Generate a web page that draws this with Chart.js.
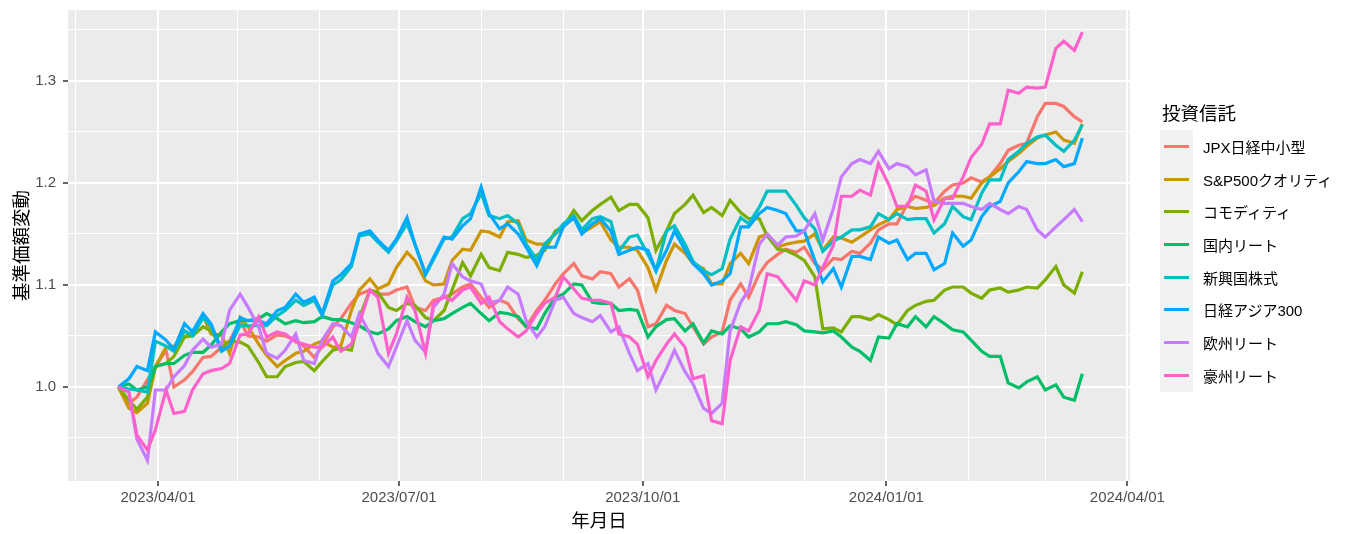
<!DOCTYPE html>
<html>
<head>
<meta charset="utf-8">
<script src="https://cdn.jsdelivr.net/npm/chart.js@4"></script>
<style>
  body { margin: 0; background: #ffffff; }
  #wrap { position: relative; width: 1352px; height: 534px; font-family: 'Liberation Sans', 'Noto Sans CJK JP', sans-serif; }
  #legend { position: absolute; left: 1160px; top: 98px; }
  #legend .title { font-size: 18.5px; color: #000; margin-left: 2px; height: 28px; padding-top: 4px; line-height: 24px; }
  #legend .row { display: flex; align-items: center; height: 32.7px; }
  #legend .key { width: 33px; height: 32.7px; background: #F2F2F2; position: relative; }
  #legend .key span { position: absolute; left: 4px; right: 4px; top: 15px; height: 3px; }
  #legend .label { font-size: 15px; color: #000; margin-left: 10px; }
</style>
</head>
<body>
<div id="wrap">
  <canvas id="chart" width="1352" height="534"></canvas>
  <div id="legend"></div>
</div>
<script>
// Dates (Fridays and Tuesdays)
const dates = [
  '2023-03-17', '2023-03-21', '2023-03-24', '2023-03-28', '2023-03-31', '2023-04-04', '2023-04-07', '2023-04-11', '2023-04-14', '2023-04-18', '2023-04-21', '2023-04-25', '2023-04-28',
  '2023-05-02', '2023-05-05', '2023-05-09', '2023-05-12', '2023-05-16', '2023-05-19', '2023-05-23', '2023-05-26', '2023-05-30', '2023-06-02', '2023-06-06', '2023-06-09', '2023-06-13',
  '2023-06-16', '2023-06-20', '2023-06-23', '2023-06-27', '2023-06-30', '2023-07-04', '2023-07-07', '2023-07-11', '2023-07-14', '2023-07-18', '2023-07-21', '2023-07-25', '2023-07-28',
  '2023-08-01', '2023-08-04', '2023-08-08', '2023-08-11', '2023-08-15', '2023-08-18', '2023-08-22', '2023-08-25', '2023-08-29', '2023-09-01', '2023-09-05', '2023-09-08', '2023-09-12',
  '2023-09-15', '2023-09-19', '2023-09-22', '2023-09-26', '2023-09-29', '2023-10-03', '2023-10-06', '2023-10-10', '2023-10-13', '2023-10-17', '2023-10-20', '2023-10-24', '2023-10-27',
  '2023-10-31', '2023-11-03', '2023-11-07', '2023-11-10', '2023-11-14', '2023-11-17', '2023-11-21', '2023-11-24', '2023-11-28', '2023-12-01', '2023-12-05', '2023-12-08', '2023-12-12',
  '2023-12-15', '2023-12-19', '2023-12-22', '2023-12-26', '2023-12-29', '2024-01-02', '2024-01-05', '2024-01-09', '2024-01-12', '2024-01-16', '2024-01-19', '2024-01-23', '2024-01-26',
  '2024-01-30', '2024-02-02', '2024-02-06', '2024-02-09', '2024-02-13', '2024-02-16', '2024-02-20', '2024-02-23', '2024-02-27', '2024-03-01', '2024-03-05', '2024-03-08', '2024-03-12',
  '2024-03-15'];

// Series values (基準価額変動, start = 1.0)
const jpx = [
  1.000, 0.984, 0.990, 1.007, 1.020, 1.036, 1.000, 1.007, 1.015, 1.029, 1.030, 1.039, 1.045, 1.065, 1.050, 1.049, 1.045, 1.051, 1.050, 1.046, 1.040, 1.029, 1.040, 1.059, 1.067, 1.082,
  1.091, 1.095, 1.091, 1.091, 1.095, 1.098, 1.078, 1.075, 1.085, 1.088, 1.091, 1.098, 1.101, 1.088, 1.078, 1.085, 1.082, 1.067, 1.059, 1.075, 1.085, 1.101, 1.111, 1.121, 1.109, 1.106,
  1.113, 1.111, 1.098, 1.106, 1.095, 1.059, 1.062, 1.080, 1.075, 1.072, 1.059, 1.042, 1.049, 1.054, 1.085, 1.101, 1.088, 1.111, 1.122, 1.130, 1.135, 1.132, 1.137, 1.121, 1.115, 1.126,
  1.125, 1.133, 1.131, 1.141, 1.154, 1.160, 1.160, 1.180, 1.187, 1.183, 1.180, 1.192, 1.198, 1.200, 1.205, 1.201, 1.206, 1.219, 1.232, 1.237, 1.239, 1.265, 1.278, 1.278, 1.275, 1.265, 1.260];
const sp500 = [
  1.000, 0.979, 0.975, 0.984, 1.020, 1.039, 1.040, 1.049, 1.054, 1.070, 1.052, 1.051, 1.033, 1.068, 1.059, 1.042, 1.031, 1.020, 1.026, 1.033, 1.035, 1.042, 1.045, 1.039, 1.040, 1.075,
  1.095, 1.106, 1.096, 1.101, 1.117, 1.132, 1.124, 1.104, 1.100, 1.101, 1.124, 1.135, 1.134, 1.153, 1.152, 1.147, 1.162, 1.163, 1.144, 1.140, 1.140, 1.150, 1.157, 1.166, 1.151, 1.157,
  1.162, 1.144, 1.137, 1.137, 1.134, 1.117, 1.095, 1.124, 1.140, 1.131, 1.121, 1.116, 1.101, 1.101, 1.121, 1.131, 1.121, 1.147, 1.150, 1.137, 1.140, 1.142, 1.143, 1.150, 1.134, 1.147,
  1.146, 1.142, 1.147, 1.154, 1.159, 1.164, 1.174, 1.177, 1.175, 1.176, 1.178, 1.185, 1.187, 1.187, 1.185, 1.200, 1.206, 1.214, 1.221, 1.229, 1.236, 1.244, 1.247, 1.250, 1.242, 1.239, 1.258];
const commodity = [
  1.000, 0.987, 0.978, 0.990, 1.020, 1.023, 1.030, 1.049, 1.050, 1.059, 1.055, 1.039, 1.045, 1.044, 1.040, 1.024, 1.010, 1.010, 1.020, 1.024, 1.025, 1.016, 1.025, 1.036, 1.038, 1.036,
  1.068, 1.095, 1.093, 1.078, 1.075, 1.082, 1.080, 1.068, 1.065, 1.075, 1.095, 1.122, 1.109, 1.130, 1.117, 1.114, 1.132, 1.130, 1.127, 1.129, 1.134, 1.153, 1.157, 1.173, 1.163, 1.173,
  1.179, 1.186, 1.173, 1.179, 1.179, 1.166, 1.134, 1.153, 1.170, 1.179, 1.188, 1.171, 1.176, 1.168, 1.183, 1.171, 1.165, 1.165, 1.148, 1.135, 1.134, 1.129, 1.124, 1.108, 1.057, 1.058,
  1.054, 1.069, 1.069, 1.066, 1.071, 1.066, 1.061, 1.075, 1.080, 1.084, 1.085, 1.095, 1.098, 1.098, 1.092, 1.087, 1.095, 1.097, 1.093, 1.095, 1.098, 1.097, 1.105, 1.118, 1.100, 1.092, 1.113];
const jreit = [
  1.000, 1.003, 0.997, 1.000, 1.020, 1.023, 1.023, 1.031, 1.034, 1.034, 1.041, 1.054, 1.062, 1.065, 1.065, 1.067, 1.072, 1.067, 1.062, 1.065, 1.063, 1.064, 1.069, 1.066, 1.066, 1.063,
  1.060, 1.054, 1.052, 1.057, 1.065, 1.069, 1.064, 1.059, 1.065, 1.067, 1.072, 1.078, 1.082, 1.072, 1.065, 1.073, 1.072, 1.069, 1.059, 1.057, 1.072, 1.088, 1.091, 1.101, 1.100, 1.083,
  1.082, 1.082, 1.075, 1.076, 1.075, 1.049, 1.059, 1.066, 1.067, 1.055, 1.062, 1.043, 1.055, 1.052, 1.060, 1.057, 1.049, 1.054, 1.062, 1.062, 1.064, 1.061, 1.055, 1.054, 1.053, 1.055,
  1.049, 1.039, 1.035, 1.026, 1.049, 1.048, 1.062, 1.059, 1.069, 1.059, 1.069, 1.062, 1.056, 1.054, 1.046, 1.035, 1.030, 1.030, 1.004, 0.999, 1.005, 1.010, 0.997, 1.002, 0.990, 0.987, 1.013];
const emerging = [
  1.000, 0.998, 0.997, 0.995, 1.045, 1.040, 1.035, 1.055, 1.050, 1.068, 1.060, 1.035, 1.040, 1.060, 1.060, 1.060, 1.060, 1.070, 1.075, 1.085, 1.080, 1.085, 1.070, 1.100, 1.105, 1.118,
  1.148, 1.150, 1.142, 1.132, 1.143, 1.160, 1.140, 1.110, 1.125, 1.145, 1.147, 1.165, 1.170, 1.190, 1.168, 1.165, 1.168, 1.160, 1.140, 1.125, 1.140, 1.150, 1.160, 1.168, 1.154, 1.165,
  1.167, 1.162, 1.133, 1.147, 1.149, 1.130, 1.114, 1.153, 1.158, 1.140, 1.123, 1.114, 1.110, 1.116, 1.145, 1.166, 1.160, 1.176, 1.192, 1.192, 1.192, 1.178, 1.166, 1.155, 1.133, 1.143,
  1.147, 1.154, 1.154, 1.157, 1.170, 1.164, 1.170, 1.164, 1.165, 1.165, 1.151, 1.160, 1.177, 1.167, 1.164, 1.190, 1.203, 1.203, 1.223, 1.231, 1.239, 1.245, 1.247, 1.237, 1.231, 1.242, 1.257];
const asia300 = [
  1.000, 1.008, 1.020, 1.016, 1.054, 1.046, 1.037, 1.062, 1.054, 1.072, 1.062, 1.036, 1.040, 1.068, 1.065, 1.065, 1.062, 1.075, 1.078, 1.091, 1.083, 1.088, 1.072, 1.104, 1.110, 1.121,
  1.150, 1.153, 1.144, 1.134, 1.145, 1.166, 1.140, 1.111, 1.127, 1.147, 1.145, 1.158, 1.165, 1.196, 1.170, 1.155, 1.160, 1.150, 1.137, 1.119, 1.137, 1.137, 1.157, 1.166, 1.150, 1.160,
  1.165, 1.153, 1.130, 1.134, 1.137, 1.134, 1.114, 1.134, 1.153, 1.134, 1.121, 1.111, 1.100, 1.104, 1.111, 1.157, 1.157, 1.170, 1.176, 1.173, 1.170, 1.153, 1.153, 1.124, 1.103, 1.116,
  1.098, 1.128, 1.128, 1.125, 1.147, 1.141, 1.144, 1.125, 1.131, 1.131, 1.115, 1.121, 1.151, 1.138, 1.144, 1.167, 1.177, 1.182, 1.200, 1.211, 1.221, 1.219, 1.219, 1.223, 1.216, 1.219, 1.244];
const eureit = [
  1.000, 0.995, 0.949, 0.928, 0.997, 0.997, 1.010, 1.021, 1.036, 1.047, 1.039, 1.042, 1.075, 1.091, 1.078, 1.059, 1.033, 1.028, 1.036, 1.052, 1.026, 1.023, 1.046, 1.062, 1.060, 1.049,
  1.072, 1.052, 1.033, 1.020, 1.039, 1.065, 1.046, 1.034, 1.078, 1.091, 1.121, 1.108, 1.104, 1.101, 1.082, 1.085, 1.098, 1.091, 1.065, 1.049, 1.059, 1.085, 1.088, 1.072, 1.068, 1.064,
  1.070, 1.054, 1.059, 1.033, 1.016, 1.023, 0.997, 1.018, 1.036, 1.015, 1.003, 0.979, 0.974, 0.984, 1.055, 1.083, 1.095, 1.140, 1.150, 1.139, 1.147, 1.148, 1.153, 1.170, 1.144, 1.175,
  1.206, 1.219, 1.223, 1.219, 1.231, 1.214, 1.219, 1.216, 1.208, 1.213, 1.182, 1.180, 1.180, 1.180, 1.177, 1.174, 1.180, 1.174, 1.170, 1.177, 1.174, 1.154, 1.147, 1.157, 1.164, 1.174, 1.162];
const aureit = [
  1.000, 0.995, 0.953, 0.938, 0.958, 0.997, 0.974, 0.976, 0.997, 1.013, 1.016, 1.018, 1.023, 1.051, 1.052, 1.069, 1.049, 1.054, 1.052, 1.044, 1.042, 1.039, 1.039, 1.049, 1.035, 1.042,
  1.062, 1.095, 1.088, 1.033, 1.052, 1.088, 1.075, 1.033, 1.082, 1.088, 1.085, 1.095, 1.098, 1.082, 1.088, 1.064, 1.057, 1.049, 1.055, 1.072, 1.082, 1.088, 1.108, 1.096, 1.087, 1.085,
  1.085, 1.082, 1.052, 1.049, 1.042, 1.010, 1.026, 1.042, 1.052, 1.039, 1.008, 1.011, 0.967, 0.964, 1.026, 1.059, 1.055, 1.075, 1.111, 1.108, 1.098, 1.085, 1.104, 1.100, 1.117, 1.139,
  1.187, 1.187, 1.193, 1.188, 1.219, 1.198, 1.177, 1.177, 1.198, 1.192, 1.164, 1.185, 1.185, 1.206, 1.225, 1.238, 1.258, 1.258, 1.291, 1.288, 1.294, 1.293, 1.294, 1.332, 1.339, 1.330, 1.348];

const seriesNames = ['JPX日経中小型', 'S&P500クオリティ', 'コモディティ', '国内リート', '新興国株式', '日経アジア300', '欧州リート', '豪州リート'];
const seriesValues = [jpx, sp500, commodity, jreit, emerging, asia300, eureit, aureit];
const seriesColors = ['#F8766D', '#CD9600', '#7CAE00', '#00BE67', '#00BFC4', '#00A9FF', '#C77CFF', '#FF61CC'];

// Axis ticks
const xTickDates = ['2023-03-01', '2023-04-01', '2023-05-01', '2023-06-01', '2023-07-01', '2023-08-01', '2023-09-01',
  '2023-10-01', '2023-11-01', '2023-12-01', '2024-01-01', '2024-02-01', '2024-03-01', '2024-04-01'];
const xLabelDates = ['2023-04-01', '2023-07-01', '2023-10-01', '2024-01-01', '2024-04-01'];
const yTickValues = [0.95, 1.0, 1.05, 1.1, 1.15, 1.2, 1.25, 1.3, 1.35];
const yLabelValues = [1.0, 1.1, 1.2, 1.3];

// Axis range (ggplot expansion)
const xMinDate = '2023-02-26';
const xMaxDate = '2024-04-02';
const yMin = 0.9078;
const yMax = 1.3696;

function dayNum(s) {
  const p = s.split('-');
  return Date.UTC(+p[0], +p[1] - 1, +p[2]) / 86400000;
}
function dayLabel(v) {
  const d = new Date(v * 86400000);
  const mm = String(d.getUTCMonth() + 1).padStart(2, '0');
  const dd = String(d.getUTCDate()).padStart(2, '0');
  return d.getUTCFullYear() + '/' + mm + '/' + dd;
}

const xLabelNums = xLabelDates.map(dayNum);
const isMajorX = v => xLabelNums.includes(v);
const isMajorY = v => yLabelValues.some(t => Math.abs(t - v) < 1e-6);

const datasets = seriesNames.map((name, i) => ({
  label: name,
  data: dates.map((d, j) => ({ x: dayNum(d), y: seriesValues[i][j] })),
  borderColor: seriesColors[i],
  backgroundColor: seriesColors[i],
  borderWidth: 3.2,
  pointRadius: 0,
  tension: 0,
  order: seriesNames.length - i
}));

// grey panel behind the grid
const panelBg = {
  id: 'panelBg',
  beforeDraw(chart) {
    const a = chart.chartArea;
    const c = chart.ctx;
    c.save();
    c.fillStyle = '#EBEBEB';
    c.fillRect(a.left, a.top, a.right - a.left, a.bottom - a.top);
    c.restore();
  }
};

const fontFamily = "'Liberation Sans', 'Noto Sans CJK JP', sans-serif";

new Chart(document.getElementById('chart'), {
  type: 'line',
  data: { datasets: datasets },
  options: {
    responsive: false,
    animation: false,
    devicePixelRatio: 1,
    layout: { padding: { top: 10, right: 222, bottom: 0, left: 0 } },
    plugins: { legend: { display: false }, tooltip: { enabled: false } },
    scales: {
      x: {
        type: 'linear',
        min: dayNum(xMinDate),
        max: dayNum(xMaxDate),
        afterBuildTicks: s => { s.ticks = xTickDates.map(d => ({ value: dayNum(d) })); },
        afterFit: s => { s.height = 53; s.paddingLeft = 0; s.paddingRight = 0; },
        border: { display: false },
        grid: {
          color: '#FFFFFF',
          lineWidth: c => (c.tick && isMajorX(c.tick.value)) ? 2 : 1,
          tickColor: c => (c.tick && isMajorX(c.tick.value)) ? '#333333' : 'rgba(0,0,0,0)',
          tickLength: 5,
          tickWidth: 1.5
        },
        ticks: {
          autoSkip: false,
          maxRotation: 0,
          padding: 3,
          color: '#4D4D4D',
          font: { family: fontFamily, size: 15 },
          callback: v => isMajorX(v) ? dayLabel(v) : ''
        },
        title: {
          display: true,
          text: '年月日',
          color: '#000000',
          font: { family: fontFamily, size: 18.5 },
          padding: { top: 0, bottom: 1 }
        }
      },
      y: {
        type: 'linear',
        min: yMin,
        max: yMax,
        afterBuildTicks: s => { s.ticks = yTickValues.map(v => ({ value: v })); },
        afterFit: s => { s.width = 68; s.paddingTop = 0; s.paddingBottom = 0; },
        border: { display: false },
        grid: {
          color: '#FFFFFF',
          lineWidth: c => (c.tick && isMajorY(c.tick.value)) ? 2 : 1,
          tickColor: c => (c.tick && isMajorY(c.tick.value)) ? '#333333' : 'rgba(0,0,0,0)',
          tickLength: 5,
          tickWidth: 1.5
        },
        ticks: {
          autoSkip: false,
          padding: 7,
          color: '#4D4D4D',
          font: { family: fontFamily, size: 15 },
          callback: v => isMajorY(v) ? v.toFixed(1) : ''
        },
        title: {
          display: true,
          text: '基準価額変動',
          color: '#000000',
          font: { family: fontFamily, size: 18.5 },
          padding: { top: 12, bottom: 0 }
        }
      }
    }
  },
  plugins: [panelBg]
});

// legend (ggplot style)
const legend = document.getElementById('legend');
let html = '<div class="title">投資信託</div>';
seriesNames.forEach((name, i) => {
  html += '<div class="row"><div class="key"><span style="background:' + seriesColors[i] + '"></span></div>' +
    '<div class="label">' + name.replace('&', '&amp;') + '</div></div>';
});
legend.innerHTML = html;
</script>
</body>
</html>
